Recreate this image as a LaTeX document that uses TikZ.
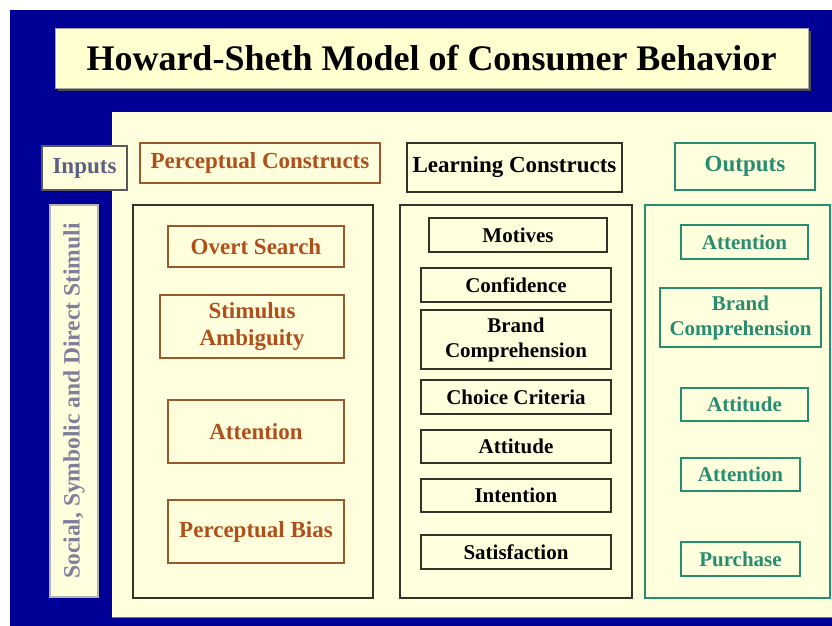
\documentclass[tikz,border=0pt]{standalone}
\usepackage{fontspec}
\setmainfont{Liberation Serif}
\definecolor{bgblue}{RGB}{0,0,150}
\definecolor{cream}{RGB}{255,255,221}
\definecolor{titlecream}{RGB}{255,255,208}
\definecolor{brownc}{RGB}{176,78,28}
\definecolor{brownline}{RGB}{150,90,45}
\definecolor{tealc}{RGB}{40,140,112}
\definecolor{slatec}{RGB}{95,95,130}
\definecolor{darkline}{RGB}{50,50,40}
\begin{document}
\begin{tikzpicture}[x=1pt,y=-1pt,
  base/.style={inner sep=0pt, align=center, fill=cream, line width=1.1pt, font=\bfseries},
  hdr/.style={base, font=\fontsize{23}{26}\selectfont\bfseries},
  pbox/.style={base, draw=brownline, text=brownc, font=\fontsize{23}{27}\selectfont\bfseries},
  lbox/.style={base, draw=darkline, text=black, font=\fontsize{21}{25}\selectfont\bfseries},
  obox/.style={base, draw=tealc, text=tealc, font=\fontsize{21}{25}\selectfont\bfseries},
  panel/.style={draw=darkline, line width=1.4pt, fill=cream, inner sep=0pt}
]
\useasboundingbox (0,0) rectangle (832,626);
\fill[white] (0,0) rectangle (832,626);
\fill[bgblue] (10,10) rectangle (832,626);
% cream panel
\fill[cream] (112,112) rectangle (832,617);
\draw[blue!60!white, line width=1pt] (112,617.5) -- (832,617.5);

% title
\fill[gray!60!black] (58,31) rectangle (811,91);
\node[base, fill=titlecream, draw=gray!70, line width=0.6pt, minimum width=753pt, minimum height=60pt,
  font=\fontsize{36}{40}\selectfont\bfseries] (title) at (431.5,58) {Howard-Sheth Model of Consumer Behavior};

% headers
\node[hdr, draw=gray!70!black, text=slatec, minimum width=85pt, minimum height=44pt] (inputs) at (84.5,168) {Inputs};
\node[hdr, draw=brownline, text=brownc, minimum width=240pt, minimum height=40pt] (perch) at (260,163) {Perceptual Constructs};
\node[hdr, draw=darkline, text=black, minimum width=215pt, minimum height=49pt] (learnh) at (514.5,167.5) {Learning Constructs};
\node[hdr, draw=tealc, text=tealc, minimum width=140pt, minimum height=47pt] (outh) at (745,166.5) {Outputs};

% vertical stimuli box
\node[hdr, draw=gray!60, text=slatec!80!white, rotate=90, minimum width=392pt, minimum height=48pt,
  font=\fontsize{23.5}{26}\selectfont\bfseries] (stim) at (74,401) {Social, Symbolic and Direct Stimuli};

% panels
\node[panel, minimum width=240pt, minimum height=393pt] (pp) at (253,401.5) {};
\node[panel, minimum width=232pt, minimum height=393pt] (lp) at (516,401.5) {};
\node[panel, draw=tealc, line width=1.1pt, minimum width=185pt, minimum height=393pt] (op) at (737.5,401.5) {};

% perceptual constructs
\node[pbox, minimum width=176pt, minimum height=41pt] (overt) at (256,246.5) {Overt Search};
\node[pbox, minimum width=184pt, minimum height=63pt] (ambig) at (252,326.5) {Stimulus\\Ambiguity};
\node[pbox, minimum width=176pt, minimum height=63pt] (patt) at (256,431.5) {Attention};
\node[pbox, minimum width=176pt, minimum height=63pt] (pbias) at (256,531.5) {Perceptual Bias};

% learning constructs
\node[lbox, minimum width=178pt, minimum height=34pt] (motives) at (518,235) {Motives};
\node[lbox, minimum width=190pt, minimum height=34pt] (conf) at (516,285) {Confidence};
\node[lbox, minimum width=190pt, minimum height=59pt] (lbrand) at (516,339.5) {Brand\\Comprehension};
\node[lbox, minimum width=190pt, minimum height=34pt] (choice) at (516,397) {Choice Criteria};
\node[lbox, minimum width=190pt, minimum height=33pt] (latt) at (516,446.5) {Attitude};
\node[lbox, minimum width=190pt, minimum height=33pt] (intent) at (516,495.5) {Intention};
\node[lbox, minimum width=190pt, minimum height=34pt] (satis) at (516,552) {Satisfaction};

% outputs
\node[obox, minimum width=127pt, minimum height=34pt] (oatt) at (744.5,242) {Attention};
\node[obox, minimum width=161pt, minimum height=59pt] (obrand) at (740.5,317.5) {Brand\\Comprehension};
\node[obox, minimum width=127pt, minimum height=33pt] (oattit) at (744.5,404.5) {Attitude};
\node[obox, minimum width=119pt, minimum height=33pt] (oatt2) at (740.5,474.5) {Attention};
\node[obox, minimum width=119pt, minimum height=34pt] (purch) at (740.5,559) {Purchase};
\end{tikzpicture}
\end{document}
